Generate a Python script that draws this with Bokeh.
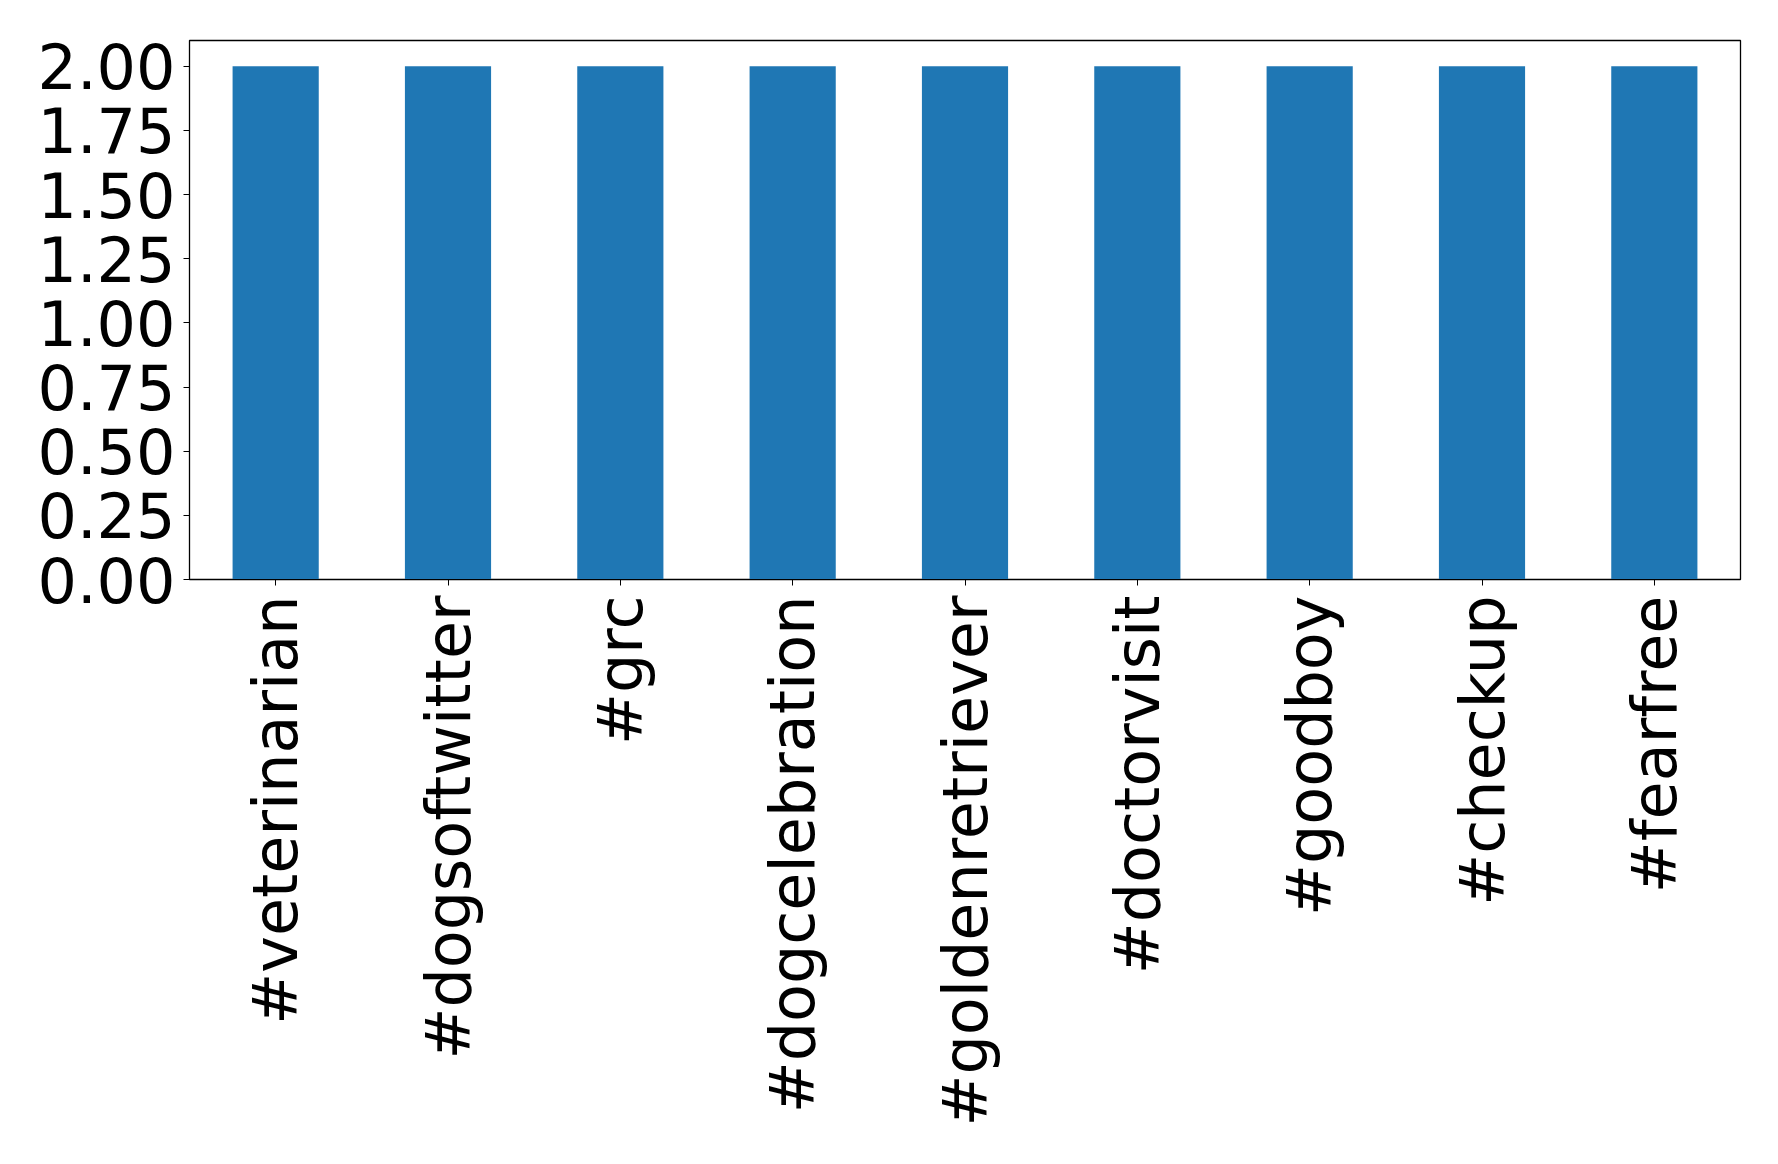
import math
from bokeh.plotting import figure
from bokeh.models import FactorRange, Range1d, FixedTicker, NumeralTickFormatter
from bokeh.embed import file_html
from bokeh.resources import INLINE

categories = ["#veterinarian", "#dogsoftwitter", "#grc", "#dogcelebration",
              "#goldenretriever", "#doctorvisit", "#goodboy", "#checkup", "#fearfree"]
counts = [2, 2, 2, 2, 2, 2, 2, 2, 2]
y_ticks = [0, 0.25, 0.5, 0.75, 1.0, 1.25, 1.5, 1.75, 2.0]

p = figure(width=1760, height=1140, output_backend="svg", toolbar_location=None,
           x_range=FactorRange(factors=categories, range_padding=0),
           y_range=Range1d(0, 2.1),
           min_border_left=189, min_border_right=20, min_border_top=40, min_border_bottom=561)

p.vbar(x=categories, top=counts, width=0.5, color="#1f77b4", line_color=None)

p.xgrid.visible = False
p.ygrid.visible = False
p.outline_line_color = "black"
p.outline_line_width = 1.3
p.background_fill_color = "white"
p.border_fill_color = "white"

for ax in (p.xaxis[0], p.yaxis[0]):
    ax.major_label_text_font = "DejaVu Sans"
    ax.major_label_text_font_size = "62px"
    ax.major_label_text_color = "black"
    ax.axis_line_color = "black"
    ax.major_tick_line_color = "black"
    ax.major_tick_out = 6
    ax.major_tick_in = 0
    ax.minor_tick_line_color = None

p.yaxis[0].ticker = FixedTicker(ticks=y_ticks)
p.yaxis[0].formatter = NumeralTickFormatter(format="0.00")
p.yaxis[0].major_label_standoff = 8
p.xaxis[0].major_label_orientation = math.pi / 2
p.xaxis[0].major_label_standoff = 10
p.xaxis[0].group_text_font_size = "0px"

open("out.html", "w").write(file_html(p, INLINE))
